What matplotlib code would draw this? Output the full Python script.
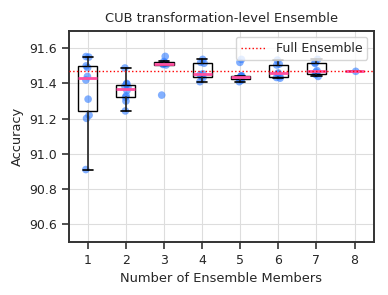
import numpy as np
import matplotlib.pyplot as plt
import seaborn as sns

members = [1, 2, 3, 4, 5, 6, 7, 8]
acc_1 = [90.911, 91.202, 91.22, 91.311, 91.42, 91.44, 91.49, 91.50, 91.55, 91.553]
acc_2 = [91.244, 91.30, 91.322, 91.33, 91.36, 91.38, 91.385, 91.397, 91.40, 91.488]
acc_3 = [91.334, 91.505, 91.508, 91.512, 91.515, 91.518, 91.525, 91.554]
acc_4 = [91.41, 91.433, 91.44, 91.45, 91.455, 91.515, 91.52, 91.537]
acc_5 = [91.41, 91.418, 91.425, 91.43, 91.435, 91.44, 91.442, 91.444, 91.52, 91.537]
acc_6 = [91.43, 91.434, 91.44, 91.455, 91.46, 91.505, 91.51, 91.533]
acc_7 = [91.44, 91.452, 91.456, 91.465, 91.473, 91.514, 91.518, 91.537]
acc_8 = [91.469]
full_ensemble = 91.469

groups = [acc_1, acc_2, acc_3, acc_4, acc_5, acc_6, acc_7, acc_8]

sns.set_style("ticks", {"axes.grid": True, "grid.color": "#dddddd"})
plt.rcParams['font.family'] = ['DejaVu Sans']

fig, ax = plt.subplots(figsize=(3.88, 2.95), dpi=100)

# small horizontal jitter so overlapping points stay visible
rng = np.random.default_rng(3)
for m, vals in zip(members, groups):
    jitter = rng.uniform(-0.06, 0.06, len(vals))
    ax.scatter(m + jitter, vals, s=30, color="#2f7bff", alpha=0.6,
               edgecolors="none", zorder=2)

ax.boxplot(groups, positions=members, widths=0.5, showfliers=False,
           patch_artist=True, capwidths=0.27,
           boxprops=dict(facecolor="none", edgecolor="black", linewidth=1.0),
           whiskerprops=dict(color="#222222", linewidth=1.2),
           capprops=dict(color="black", linewidth=1.2),
           medianprops=dict(color="#ff4fa0", linewidth=2.0),
           zorder=3)

ax.axhline(full_ensemble, color="red", linestyle=":", linewidth=1.0,
           label="Full Ensemble", zorder=4)

ax.set_xlim(0.5, 8.5)
ax.set_ylim(90.5, 91.7)
ax.set_xticks(members)
ax.set_xticklabels([str(m) for m in members])
ax.set_yticks([90.6, 90.8, 91.0, 91.2, 91.4, 91.6])
ax.tick_params(labelsize=9, width=1.2, length=5, color="#333333")
ax.set_xlabel("Number of Ensemble Members", fontsize=9.4)
ax.set_ylabel("Accuracy", fontsize=9.4)
ax.set_title("CUB transformation-level Ensemble", fontsize=9.4)
ax.legend(loc="upper right", fontsize=9)
for s in ax.spines.values():
    s.set_color("#333333")
    s.set_linewidth(1.4)

fig.subplots_adjust(left=0.177, right=0.963, top=0.896, bottom=0.18)
fig.savefig("out.png")
